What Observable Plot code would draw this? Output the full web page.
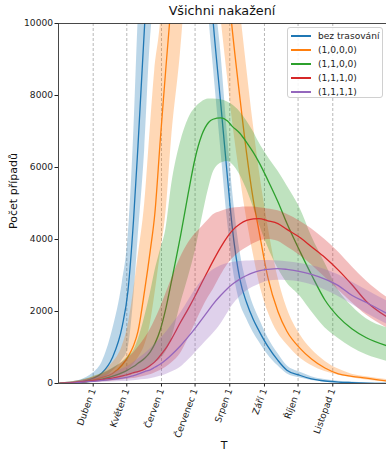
<!DOCTYPE html>
<html><head><meta charset="utf-8">
<script src="https://cdn.jsdelivr.net/npm/d3@7"></script>
<script src="https://cdn.jsdelivr.net/npm/@observablehq/plot@0.6"></script>
<style>
body{margin:0;background:#fff;font-family:"DejaVu Sans",sans-serif;}
#wrap{position:relative;width:386px;height:451px;overflow:hidden;}
#wrap svg{position:absolute;left:0;top:0;}
.title{position:absolute;left:122px;width:200px;top:3px;text-align:center;font-size:12.75px;color:#111;line-height:16px;}
.ylab{position:absolute;left:13px;top:191px;transform:translate(-50%,-50%) rotate(-90deg);white-space:nowrap;font-size:11px;color:#111;line-height:13px;}
.xlab{position:absolute;left:224px;top:445px;transform:translate(-50%,-50%);font-size:11px;color:#111;line-height:11px;}
.legend{position:absolute;left:287px;top:27px;width:96px;height:71px;box-sizing:border-box;border:1px solid #d0d0d0;border-radius:3px;background:rgba(255,255,255,0.85);}
.legend .row{position:absolute;left:0;height:14px;display:flex;align-items:center;font-size:9.1px;color:#222;white-space:nowrap;}
.legend .sw{display:inline-block;width:20px;height:1.6px;margin-left:3px;margin-right:7px;}
</style></head><body>
<div id="wrap"></div>
<script>
// shared sample dates
const dates = ["2020-03-02","2020-03-16","2020-03-26","2020-04-01","2020-04-09","2020-04-18","2020-04-27","2020-05-02","2020-05-07","2020-05-11","2020-05-17","2020-05-22","2020-05-26","2020-05-31","2020-06-05","2020-06-10","2020-06-18","2020-06-25","2020-07-01","2020-07-07","2020-07-13","2020-07-17","2020-07-24","2020-07-30","2020-08-03","2020-08-10","2020-08-16","2020-08-22","2020-08-27","2020-09-04","2020-09-13","2020-09-21","2020-10-03","2020-10-13","2020-10-25","2020-11-06","2020-11-18","2020-12-01","2020-12-19"];

const seriesNames = ["bez trasování","(1,0,0,0)","(1,1,0,0)","(1,1,1,0)","(1,1,1,1)"];
const seriesColors = ["#1f77b4","#ff7f0e","#2ca02c","#d62728","#9467bd"];

// bez trasování
const blueMean = [5,25,80,145,300,710,1600,2560,4530,6600,10000,12400,14000,15500,16500,17300,18000,17800,16800,14500,11700,10100,7750,5700,4400,2900,2250,1780,1470,1030,640,370,222,130,70,40,25,12,5];
const blueLo   = [0,8,35,65,140,330,650,950,2300,4000,6500,9500,10800,12000,13500,14500,15500,15500,14500,13000,10300,8900,6500,4500,3400,2250,1800,1420,1170,800,490,270,150,85,45,25,14,6,2];
const blueHi   = [15,60,170,290,600,1450,2800,4000,6800,10000,13500,15500,17000,18000,19000,19500,20500,20000,19000,16000,13000,11300,9200,6900,5500,3700,2800,2180,1820,1280,830,500,310,190,110,65,40,20,10];
// (1,0,0,0)
const orangeMean = [5,20,55,100,170,270,520,740,1050,1450,2600,3700,4700,6800,8800,10700,14000,16000,17000,17200,16500,15500,13000,11200,9900,7950,6400,5100,4250,2950,2000,1450,970,680,430,270,200,150,70];
const orangeLo   = [0,8,25,40,90,165,260,380,530,700,1060,1650,2450,3600,4750,6800,9200,12000,14000,14500,13800,12400,10200,8500,7400,5800,4600,3600,2850,2000,1400,1080,700,500,330,230,160,100,40];
const orangeHi   = [12,45,110,190,290,560,1040,1600,2550,3500,5000,7100,8700,10000,12500,14000,17000,18500,19500,19000,18000,17100,16000,14000,12700,10500,8800,7200,6000,4400,2950,2100,1350,950,620,400,260,190,110];
// (1,1,0,0)
const greenMean = [5,20,45,70,120,200,300,380,470,560,700,880,1100,1500,2100,2850,4100,5300,6250,6900,7250,7340,7380,7290,7150,6950,6700,6420,6150,5650,5050,4450,3650,3020,2320,1850,1520,1270,1050];
const greenLo   = [1,10,25,40,60,90,150,200,250,290,380,480,570,680,880,1250,2200,2950,3650,4550,5400,5850,6120,6170,6100,5800,5400,4900,4450,3800,3200,2800,2420,2000,1550,1250,1000,800,620];
const greenHi   = [10,60,130,190,280,420,600,750,900,1200,1850,2500,3100,3700,4300,5500,6700,7350,7650,7820,7900,7900,7880,7820,7750,7550,7300,7000,6700,6300,5900,5500,4850,4100,3350,2600,2150,1800,1550];
// (1,1,1,0)
const redMean = [5,30,60,80,110,150,210,250,300,330,400,500,600,780,980,1240,1700,2080,2430,2800,3160,3400,3790,4080,4240,4430,4530,4570,4580,4520,4440,4280,4050,3800,3500,3150,2750,2280,1860];
const redLo   = [0,10,25,35,50,70,100,120,140,160,200,240,290,360,450,570,830,1250,1650,2050,2400,2600,3000,3300,3450,3650,3770,3880,3950,4000,3950,3800,3550,3300,2950,2600,2250,1900,1550];
const redHi   = [12,60,120,170,260,400,580,700,850,1000,1250,1500,1750,2100,2500,2900,3500,3900,4150,4350,4550,4680,4780,4840,4870,4890,4900,4900,4880,4850,4800,4700,4500,4300,4000,3650,3250,2850,2400];
// (1,1,1,1)
const purpleMean = [3,20,45,60,85,115,150,175,220,260,330,380,450,540,660,800,1050,1300,1530,1780,2030,2200,2450,2640,2750,2900,3000,3080,3130,3170,3190,3170,3110,3030,2900,2720,2450,2250,1950];
const purpleLo   = [0,8,15,20,30,40,55,65,75,90,110,130,160,200,250,320,450,650,850,1050,1250,1380,1650,1950,2150,2400,2570,2680,2750,2840,2870,2860,2820,2740,2600,2420,2200,1950,1650];
const purpleHi   = [10,45,90,130,200,290,400,480,580,680,820,960,1080,1250,1420,1620,1950,2300,2600,2850,3050,3150,3270,3330,3360,3390,3400,3410,3420,3420,3400,3380,3330,3270,3170,3020,2820,2600,2300];

const tickDates = ["2020-04-01","2020-05-01","2020-06-01","2020-07-01","2020-08-01","2020-09-01","2020-10-01","2020-11-01"];
const tickLabels = ["Duben 1","Květen 1","Červen 1","Červenec 1","Srpen 1","Září 1","Říjen 1","Listopad 1"];
const yTicks = [0,2000,4000,6000,8000,10000];
const xDomain = ["2020-03-01","2020-12-19"];
const yDomain = [0,10000];

const means = [blueMean, orangeMean, greenMean, redMean, purpleMean];
const los = [blueLo, orangeLo, greenLo, redLo, purpleLo];
const his = [blueHi, orangeHi, greenHi, redHi, purpleHi];

const parse = d3.utcParse("%Y-%m-%d");
const tDates = dates.map(parse);
const tTicks = tickDates.map(parse);
const labelByTime = new Map(tTicks.map((d, i) => [+d, tickLabels[i]]));

const marks = [];
marks.push(Plot.ruleX(tTicks, {stroke: "#b0b0b0", strokeWidth: 0.9, strokeDasharray: "3,2"}));
seriesNames.forEach((name, s) => {
  const rows = tDates.map((d, i) => ({date: d, mean: means[s][i], lo: los[s][i], hi: his[s][i]}));
  marks.push(Plot.areaY(rows, {x: "date", y1: "lo", y2: "hi", fill: seriesColors[s], fillOpacity: 0.3, curve: "monotone-x", clip: true}));
  marks.push(Plot.lineY(rows, {x: "date", y: "mean", stroke: seriesColors[s], strokeWidth: 1.3, curve: "monotone-x", clip: true}));
});
marks.push(Plot.ruleY([yDomain[0], yDomain[1]], {stroke: "#333", strokeWidth: 0.9}));
marks.push(Plot.ruleX([parse(xDomain[0])], {stroke: "#333", strokeWidth: 0.9}));

const chart = Plot.plot({
  width: 386,
  height: 451,
  marginLeft: 58,
  marginRight: 0,
  marginTop: 23,
  marginBottom: 68,
  style: {fontFamily: "DejaVu Sans", fontSize: "9.1px", color: "#222", background: "transparent"},
  x: {type: "utc", domain: xDomain.map(parse), ticks: tTicks, tickFormat: d => labelByTime.get(+d), tickRotate: -70, tickSize: 3.5, tickPadding: 2, label: null},
  y: {domain: yDomain, ticks: yTicks, tickSize: 3.5, tickPadding: 2, tickFormat: d => String(d), label: null},
  marks
});

const wrap = document.getElementById("wrap");
wrap.appendChild(chart);

const t = document.createElement("div"); t.className = "title"; t.textContent = "Všichni nakažení"; wrap.appendChild(t);
const yl = document.createElement("div"); yl.className = "ylab"; yl.textContent = "Počet případů"; wrap.appendChild(yl);
const xl = document.createElement("div"); xl.className = "xlab"; xl.textContent = "T"; wrap.appendChild(xl);
const lg = document.createElement("div"); lg.className = "legend";
seriesNames.forEach((name, s) => {
  const r = document.createElement("div"); r.className = "row"; r.style.top = (1 + s * 14) + "px";
  const sw = document.createElement("span"); sw.className = "sw"; sw.style.background = seriesColors[s];
  const tx = document.createElement("span"); tx.textContent = name;
  r.appendChild(sw); r.appendChild(tx); lg.appendChild(r);
});
wrap.appendChild(lg);
</script>
</body></html>
